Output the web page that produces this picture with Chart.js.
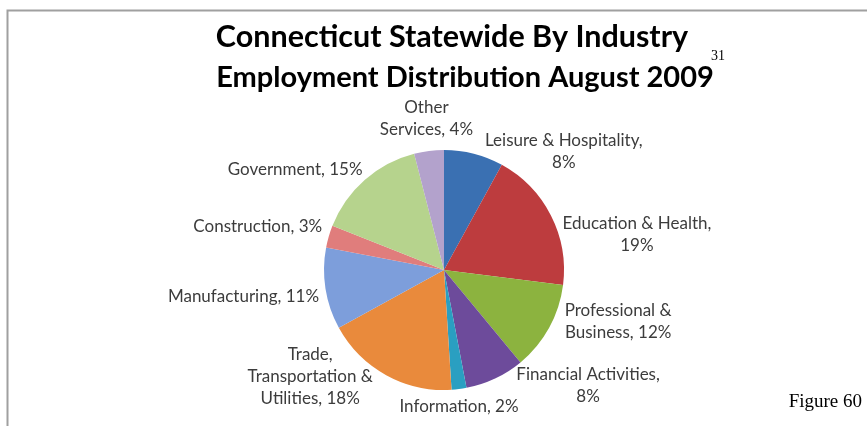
<!DOCTYPE html>
<html>
<head>
<meta charset="utf-8">
<script src="https://cdn.jsdelivr.net/npm/chart.js@4.4.0/dist/chart.umd.min.js"></script>
<style>
  html, body { margin: 0; padding: 0; background: #fff; }
  #wrap { width: 867px; height: 426px; }
</style>
</head>
<body>
<div id="wrap"><canvas id="pie" width="867" height="426"></canvas></div>
<script>
'use strict';

// data (clockwise from 12 o'clock)
const categories = [
  'Leisure & Hospitality', 'Education & Health', 'Professional & Business',
  'Financial Activities', 'Information', 'Trade, Transportation & Utilities',
  'Manufacturing', 'Construction', 'Government', 'Other Services'
];
const shares = [8, 19, 12, 8, 2, 18, 11, 3, 15, 4];
const sliceColors = [
  '#3a70b2', '#bd3c3e', '#8cb33f', '#6d4b9b', '#2a9fc1',
  '#e98a3c', '#7d9edb', '#e07d7c', '#b6d38d', '#b3a2cc'
];

// how each data label is broken into lines (Excel style)
const pct = (i) => shares[i] + '%';
const labelLines = [
  ['Leisure & Hospitality,', pct(0)],
  ['Education & Health,', pct(1)],
  ['Professional &', 'Business, ' + pct(2)],
  ['Financial Activities,', pct(3)],
  ['Information, ' + pct(4)],
  ['Trade,', 'Transportation &', 'Utilities, ' + pct(5)],
  ['Manufacturing, ' + pct(6)],
  ['Construction, ' + pct(7)],
  ['Government, ' + pct(8)],
  ['Other', 'Services, ' + pct(9)]
];

// nudge of each label from the slice's outer mid point
const labelNudge = [
  [90, -2], [86, 19], [69, -6], [93, 7], [0, 17],
  [-76, 1], [-82, 8], [-71, -10], [-69.5, -10], [-2.5, -32]
];

const FONT = "Lato, 'Noto Sans', sans-serif";

const pageDecor = {
  id: 'pageDecor',
  beforeDraw(chart) {
    const { ctx } = chart;
    ctx.save();
    ctx.fillStyle = '#fff';
    ctx.fillRect(0, 0, chart.width, chart.height);
    // frame of the pasted figure
    ctx.strokeStyle = '#a0a0a0';
    ctx.lineWidth = 2;
    ctx.beginPath();
    ctx.moveTo(7.5, 426);
    ctx.lineTo(7.5, 10.5);
    ctx.lineTo(867, 10.5);
    ctx.stroke();
    ctx.restore();
  },
  afterDraw(chart) {
    const { ctx } = chart;
    ctx.save();
    ctx.fillStyle = '#000';
    ctx.textAlign = 'center';
    ctx.textBaseline = 'middle';
    ctx.font = "bold 30.5px " + FONT;
    ctx.fillText('Connecticut Statewide By Industry', 452, 37);
    ctx.font = "bold 29px " + FONT;
    ctx.fillText('Employment Distribution August 2009', 465, 78);

    ctx.font = "14px 'Liberation Serif', 'DejaVu Serif', serif";
    ctx.fillText('31', 718, 56);
    ctx.font = "19px 'Liberation Serif', 'DejaVu Serif', serif";
    ctx.textAlign = 'right';
    ctx.fillText('Figure 60', 862, 402);
    ctx.restore();
  }
};

const sliceLabels = {
  id: 'sliceLabels',
  afterDatasetsDraw(chart) {
    const { ctx } = chart;
    const meta = chart.getDatasetMeta(0);
    const lh = 22;
    ctx.save();
    ctx.fillStyle = '#3c3c3c';
    ctx.font = "17px " + FONT;
    ctx.textAlign = 'center';
    ctx.textBaseline = 'middle';
    meta.data.forEach((arc, i) => {
      const p = arc.getProps(['x', 'y', 'startAngle', 'endAngle', 'outerRadius'], true);
      const mid = (p.startAngle + p.endAngle) / 2;
      const bx = p.x + Math.cos(mid) * p.outerRadius;
      const by = p.y + Math.sin(mid) * p.outerRadius;
      const cx = bx + labelNudge[i][0];
      const cy = by + labelNudge[i][1];
      const lines = labelLines[i];
      const top = cy - (lines.length - 1) * lh / 2;
      lines.forEach((t, k) => ctx.fillText(t, cx, top + k * lh));
    });
    ctx.restore();
  }
};

new Chart(document.getElementById('pie').getContext('2d'), {
  type: 'pie',
  data: {
    labels: categories,
    datasets: [{
      data: shares,
      backgroundColor: sliceColors,
      borderWidth: 0
    }]
  },
  options: {
    responsive: false,
    animation: false,
    layout: { padding: { top: 150, bottom: 36, left: 324, right: 303 } },
    plugins: {
      legend: { display: false },
      tooltip: { enabled: false },
      title: { display: false }
    }
  },
  plugins: [pageDecor, sliceLabels]
});
</script>
</body>
</html>
